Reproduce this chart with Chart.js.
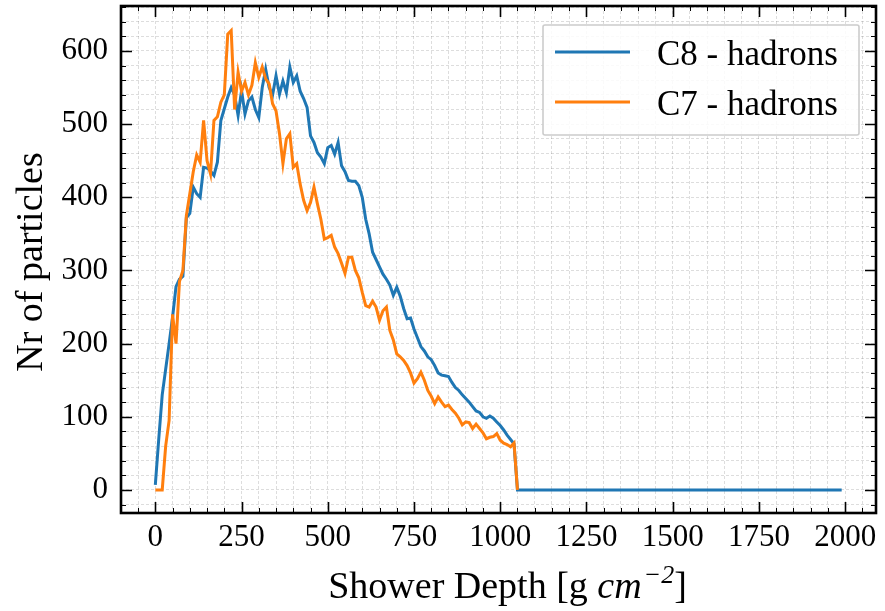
<!DOCTYPE html>
<html>
<head>
<meta charset="utf-8">
<script src="https://cdn.jsdelivr.net/npm/chart.js@4.4.0/dist/chart.umd.min.js"></script>
<style>
  html, body { margin: 0; padding: 0; background: #fff; }
  #wrap { width: 885px; height: 611px; position: relative; }
</style>
</head>
<body>
<div id="wrap"><canvas id="myChart"></canvas></div>
<script>
// shower depth in g cm^-2
const depth = [
  0, 10, 20, 30, 40, 50, 60, 70, 80, 90,
  100, 110, 120, 130, 140, 150, 160, 170, 180, 190,
  200, 210, 220, 230, 240, 250, 260, 270, 280, 290,
  300, 310, 320, 330, 340, 350, 360, 370, 380, 390,
  400, 410, 420, 430, 440, 450, 460, 470, 480, 490,
  500, 510, 520, 530, 540, 550, 560, 570, 580, 590,
  600, 610, 620, 630, 640, 650, 660, 670, 680, 690,
  700, 710, 720, 730, 740, 750, 760, 770, 780, 790,
  800, 810, 820, 830, 840, 850, 860, 870, 880, 890,
  900, 910, 920, 930, 940, 950, 960, 970, 980, 990,
  1000, 1010, 1020, 1030, 1040, 1050
];
const c8Hadrons = [
  7, 70, 130, 165, 200, 236, 278, 288, 292, 372,
  378, 414, 405, 400, 441, 440, 436, 430, 448, 505,
  521, 537, 550, 540, 512, 546, 514, 532, 537, 520,
  509, 550, 575, 550, 540, 566, 541, 559, 543, 578,
  557, 566, 545, 535, 523, 484, 475, 461, 455, 446,
  468, 471, 459, 475, 443, 435, 423, 422, 422, 416,
  400, 370, 350, 325, 315, 305, 295, 288, 280, 266,
  277, 265, 248, 234, 235, 220, 208, 196, 190, 182,
  178, 170, 160, 157, 156, 155, 147, 140, 136, 130,
  125, 120, 114, 108, 106, 100, 98, 101, 98, 93,
  88, 82, 75, 69, 63, 0
];
const c7Hadrons = [
  0, 0, 0, 60, 95, 240, 200, 285, 300, 375,
  405, 435, 458, 448, 505, 450, 432, 505, 510, 530,
  540, 623, 628, 520, 571, 545, 557, 540, 553, 584,
  564, 578, 562, 555, 528, 518, 487, 446, 480, 487,
  441, 446, 418, 396, 382, 393, 414, 391, 370, 343,
  345, 348, 332, 323, 310, 296, 318, 318, 300, 290,
  270, 252, 250, 258, 250, 232, 245, 250, 218, 205,
  186, 182, 177, 170, 160, 146, 152, 161, 150, 136,
  128, 118, 127, 120, 114, 116, 110, 105, 98, 89,
  93, 92, 84, 90, 84, 78, 70, 72, 73, 77,
  68, 64, 62, 59, 64, 0
];
// C8 keeps reporting zero up to the end of the profile
const c8TailDepth = [1990];
const c8Tail = [0];

const seriesNames = ['C8 - hadrons', 'C7 - hadrons'];
const xTickLabels = [0, 250, 500, 750, 1000, 1250, 1500, 1750, 2000];
const yTickLabels = [0, 100, 200, 300, 400, 500, 600];

const BLUE = '#1f77b4';
const ORANGE = '#ff7f0e';
const SERIF = '"Liberation Serif", "DejaVu Serif", serif';

const xMinor = [];
for (let v = -50; v <= 2050; v += 50) xMinor.push(v);
const yMinor = [];
for (let v = -20; v <= 660; v += 20) yMinor.push(v);

const toPoints = (xs, ys) => xs.map((d, i) => ({ x: d, y: ys[i] }));

// frame, inward ticks on all four sides, legend and axis titles
const sciStyle = {
  id: 'sciStyle',
  afterDraw(chart) {
    const { ctx, chartArea: a, scales: { x, y } } = chart;
    ctx.save();
    ctx.strokeStyle = '#000';

    for (const v of xMinor) {
      const px = Math.round(x.getPixelForValue(v)) + 0.5;
      const major = xTickLabels.includes(v);
      const len = major ? 11 : 5;
      ctx.lineWidth = major ? 1.6 : 1;
      ctx.beginPath();
      ctx.moveTo(px, a.bottom); ctx.lineTo(px, a.bottom - len);
      ctx.moveTo(px, a.top); ctx.lineTo(px, a.top + len);
      ctx.stroke();
    }
    for (const v of yMinor) {
      const py = Math.round(y.getPixelForValue(v)) + 0.5;
      const major = yTickLabels.includes(v);
      const len = major ? 11 : 5;
      ctx.lineWidth = major ? 1.6 : 1;
      ctx.beginPath();
      ctx.moveTo(a.left, py); ctx.lineTo(a.left + len, py);
      ctx.moveTo(a.right, py); ctx.lineTo(a.right - len, py);
      ctx.stroke();
    }

    ctx.lineWidth = 2.6;
    ctx.strokeRect(a.left, a.top, a.right - a.left, a.bottom - a.top);

    // legend
    const bx = a.right - 333, by = a.top + 19, bw = 316, bh = 110;
    ctx.fillStyle = 'rgba(255,255,255,0.85)';
    ctx.strokeStyle = '#cccccc';
    ctx.lineWidth = 1.6;
    ctx.beginPath();
    ctx.roundRect(bx, by, bw, bh, 2);
    ctx.fill();
    ctx.stroke();
    const colors = [BLUE, ORANGE];
    ctx.font = '35px ' + SERIF;
    ctx.textAlign = 'left';
    ctx.textBaseline = 'alphabetic';
    seriesNames.forEach((name, i) => {
      const ly = by + 27 + i * 50;
      ctx.strokeStyle = colors[i];
      ctx.lineWidth = 3;
      ctx.beginPath();
      ctx.moveTo(bx + 12, ly); ctx.lineTo(bx + 87, ly);
      ctx.stroke();
      ctx.fillStyle = '#000';
      ctx.fillText(name, bx + 114, ly + 13);
    });

    // x axis title: Shower Depth [g cm^-2]
    const parts = [
      { t: 'Shower Depth [g ', f: '38px ' + SERIF, dy: 0 },
      { t: 'cm', f: 'italic 38px ' + SERIF, dy: 0 },
      { t: '\u22122', f: 'italic 26px ' + SERIF, dy: -15 },
      { t: ']', f: '38px ' + SERIF, dy: 0 }
    ];
    let total = 0;
    parts.forEach(p => { ctx.font = p.f; p.w = ctx.measureText(p.t).width; total += p.w; });
    let cx = (a.left + a.right) / 2 - total / 2 + 8;
    ctx.fillStyle = '#000';
    parts.forEach(p => {
      ctx.font = p.f;
      ctx.fillText(p.t, cx, 598 + p.dy);
      cx += p.w + (p.t === 'cm' ? 2 : 0);
    });

    // y axis title
    ctx.save();
    ctx.translate(42, 262);
    ctx.rotate(-Math.PI / 2);
    ctx.textAlign = 'center';
    ctx.font = '38px ' + SERIF;
    ctx.fillText('Nr of particles', 0, 0);
    ctx.restore();

    ctx.restore();
  }
};

new Chart(document.getElementById('myChart'), {
  type: 'line',
  data: {
    datasets: [
      {
        label: seriesNames[0],
        data: toPoints(depth.concat(c8TailDepth), c8Hadrons.concat(c8Tail)),
        borderColor: BLUE,
        borderWidth: 3,
        pointRadius: 0,
        tension: 0,
        order: 2
      },
      {
        label: seriesNames[1],
        data: toPoints(depth, c7Hadrons),
        borderColor: ORANGE,
        borderWidth: 3,
        pointRadius: 0,
        tension: 0,
        order: 1
      }
    ]
  },
  options: {
    responsive: true,
    maintainAspectRatio: false,
    animation: false,
    layout: { padding: { top: 6, right: 9, left: 0, bottom: 0 } },
    plugins: {
      legend: { display: false },
      tooltip: { enabled: false }
    },
    scales: {
      x: {
        type: 'linear',
        min: -99.5,
        max: 2089.5,
        afterBuildTicks: (scale) => { scale.ticks = xMinor.map(v => ({ value: v })); },
        afterFit: (scale) => {
          scale.height = 98;
          scale.paddingLeft = 0; scale.paddingRight = 0;
          scale.paddingTop = 0; scale.paddingBottom = 0;
        },
        grid: { color: 'rgba(0,0,0,0.17)', lineWidth: 0.8, drawTicks: false },
        border: { display: false, dash: [3, 2] },
        ticks: {
          autoSkip: false,
          maxRotation: 0,
          padding: 6,
          color: '#000',
          font: { family: SERIF, size: 31 },
          callback: (v) => xTickLabels.includes(v) ? String(v) : ''
        }
      },
      y: {
        type: 'linear',
        min: -31.5,
        max: 661.5,
        afterBuildTicks: (scale) => { scale.ticks = yMinor.map(v => ({ value: v })); },
        afterFit: (scale) => {
          scale.width = 121;
          scale.paddingLeft = 0; scale.paddingRight = 0;
          scale.paddingTop = 0; scale.paddingBottom = 0;
        },
        grid: { color: 'rgba(0,0,0,0.17)', lineWidth: 0.8, drawTicks: false },
        border: { display: false, dash: [3, 2] },
        ticks: {
          autoSkip: false,
          padding: 13,
          color: '#000',
          font: { family: SERIF, size: 31 },
          callback: (v) => yTickLabels.includes(v) ? String(v) : ''
        }
      }
    }
  },
  plugins: [sciStyle]
});
</script>
</body>
</html>
